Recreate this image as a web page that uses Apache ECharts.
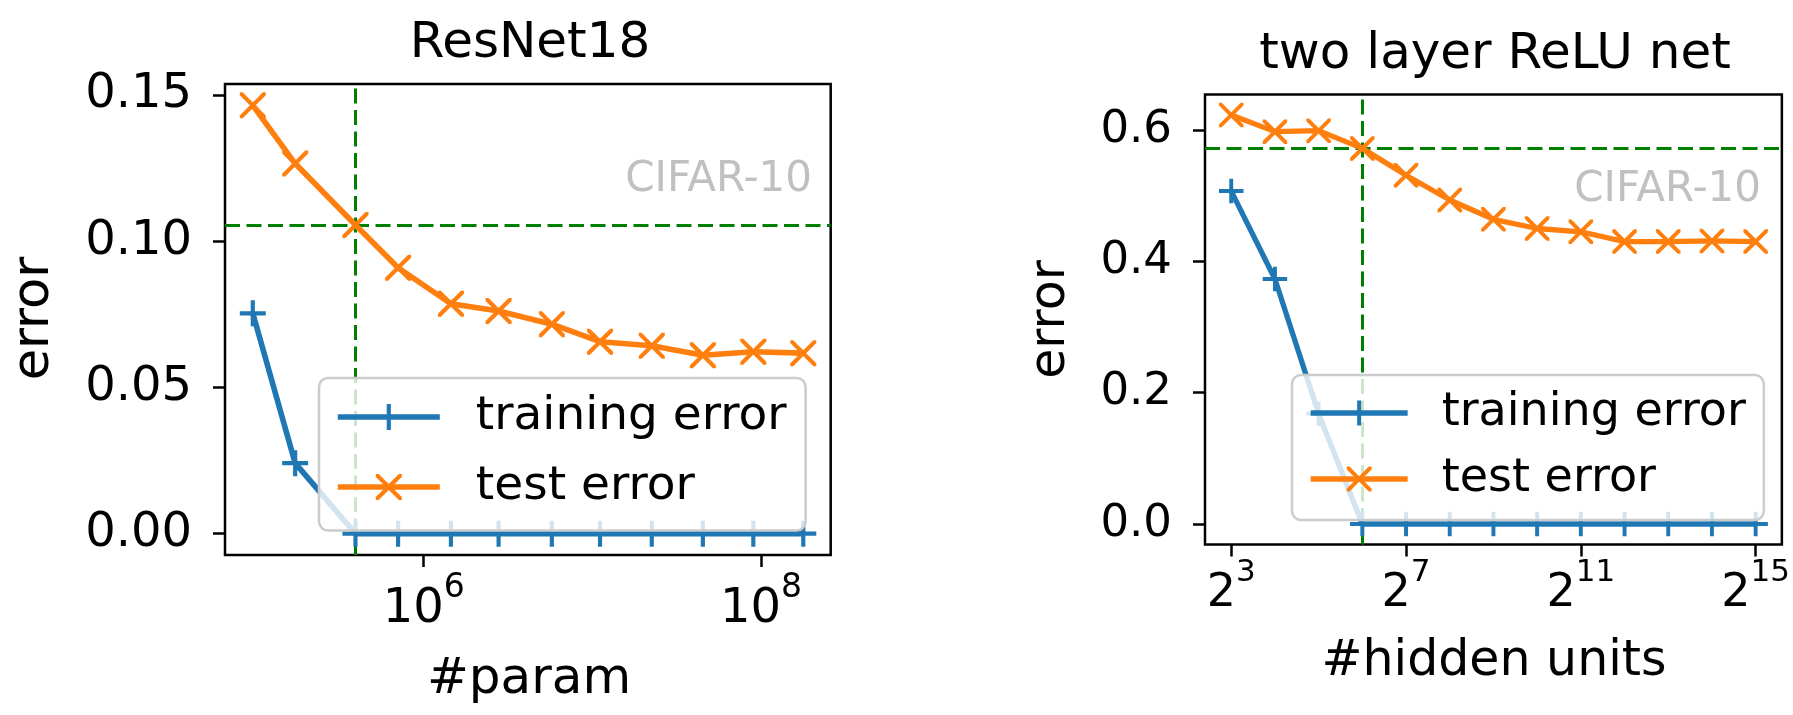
<!DOCTYPE html>
<html>
<head>
<meta charset="utf-8">
<script src="https://cdn.jsdelivr.net/npm/echarts@6/dist/echarts.min.js"></script>
<style>
html,body{margin:0;padding:0;background:#ffffff;}
#chart{width:1793px;height:715px;}
</style>
</head>
<body>
<div id="chart"></div>
<script>
// ---------- ResNet18 (CIFAR-10) ----------
const resnetParams = [9.7e4, 1.73e5, 3.94e5, 7.05e5, 1.45e6, 2.78e6, 5.75e6, 1.11e7, 2.25e7, 4.52e7, 9.0e7, 1.78e8];
const resnetTrain  = [0.0753, 0.0241, 0, 0, 0, 0, 0, 0, 0, 0, 0, 0];
const resnetTest   = [0.1464, 0.1265, 0.1055, 0.0909, 0.0786, 0.0761, 0.0716, 0.0656, 0.0642, 0.0610, 0.0622, 0.0617];
const resnetThresholdIndex = 2;
const resnetXTicks = [1e6, 1e8];
const resnetYTicks = [0, 0.05, 0.10, 0.15];

// ---------- two layer ReLU net (CIFAR-10) ----------
const hiddenUnits = [8, 16, 32, 64, 128, 256, 512, 1024, 2048, 4096, 8192, 16384, 32768];
const reluTrain   = [0.507, 0.373, 0.168, 0, 0, 0, 0, 0, 0, 0, 0, 0, 0];
const reluTest    = [0.6228, 0.5975, 0.599, 0.572, 0.531, 0.4934, 0.464, 0.450, 0.445, 0.430, 0.430, 0.431, 0.430];
const reluThresholdIndex = 3;
const reluXTicks = [8, 128, 2048, 32768];
const reluYTicks = [0, 0.2, 0.4, 0.6];

const seriesNames = ['training error', 'test error'];
const titles = ['ResNet18', 'two layer ReLU net'];
const xLabels = ['#param', '#hidden units'];
const yLabel = 'error';
const datasetNote = 'CIFAR-10';

// ---------- styles ----------
const FONT = 'DejaVu Sans';
const BLUE = '#1f77b4', ORANGE = '#ff7f0e', GREEN = '#008000', NOTE = '#c0c0c0';
const PLUS = 'path://M42,0H58V42H100V58H58V100H42V58H0V42H42Z';
const CROSS = 'path://M0,0L11.3,0L50,38.7L88.7,0L100,0L100,11.3L61.3,50L100,88.7L100,100L88.7,100L50,61.3L11.3,100L0,100L0,88.7L38.7,50L0,11.3Z';

const pairs = (xs, ys) => xs.map((x, i) => [x, ys[i]]);

function supRich(base, sup) {
  return {
    b: {fontFamily: FONT, fontSize: base, lineHeight: Math.round(base * 1.3), verticalAlign: 'bottom', color: '#000'},
    s: {fontFamily: FONT, fontSize: sup, lineHeight: Math.round(sup * 1.25) + 20, verticalAlign: 'top', color: '#000'}
  };
}

function xAxisCfg(grid, base, lo, hi, ticks, fs, margin) {
  return {
    gridIndex: grid, type: 'log', logBase: base,
    min: Math.pow(base, lo), max: Math.pow(base, hi),
    axisLine: {show: false, onZero: false},
    splitLine: {show: false},
    minorTick: {show: false},
    axisTick: {show: true, customValues: ticks, length: 12, lineStyle: {color: '#000', width: 2.5}},
    axisLabel: {
      customValues: ticks, margin: margin,
      formatter: v => '{b|' + base + '}{s|' + Math.round(Math.log(v) / Math.log(base)) + '}',
      rich: supRich(fs, Math.round(fs * 0.68))
    }
  };
}

function yAxisCfg(grid, lo, hi, ticks, digits, fs) {
  return {
    gridIndex: grid, type: 'value', min: lo, max: hi,
    axisLine: {show: false, onZero: false},
    splitLine: {show: false},
    axisTick: {show: true, customValues: ticks, length: 12, lineStyle: {color: '#000', width: 2.5}},
    axisLabel: {customValues: ticks, margin: 33, fontFamily: FONT, fontSize: fs, color: '#000',
      formatter: v => v.toFixed(digits)}
  };
}

function lineSeries(name, grid, xs, ys, color, symbol, size, width, z) {
  return {
    name: name, type: 'line', xAxisIndex: grid, yAxisIndex: grid,
    data: pairs(xs, ys), z: z,
    symbol: symbol, symbolSize: size, symbolKeepAspect: true, showSymbol: true,
    itemStyle: {color: color, borderWidth: 0},
    lineStyle: {color: color, width: width},
    clip: false, silent: true
  };
}

function thresholdSeries(grid, xv, yv) {
  return {
    type: 'line', xAxisIndex: grid, yAxisIndex: grid, data: [], z: 1, silent: true,
    markLine: {
      z: 1, silent: true, animation: false, symbol: ['none', 'none'], precision: 6,
      label: {show: false},
      lineStyle: {color: GREEN, width: 3, type: [15, 6.5]},
      emphasis: {disabled: true},
      data: [{xAxis: xv}, {yAxis: yv}]
    }
  };
}

function legendCfg(left, top, pad, iw, ih, gap, fs, lh, tpad, lw) {
  return {
    data: seriesNames, orient: 'vertical', left: left, top: top, padding: pad,
    itemWidth: iw, itemHeight: ih, itemGap: gap, selectedMode: false,
    backgroundColor: 'rgba(255,255,255,0.8)', borderColor: '#cccccc', borderWidth: 2.5, borderRadius: 9,
    lineStyle: {width: lw}, itemStyle: {borderWidth: 0},
    textStyle: {fontFamily: FONT, fontSize: fs, color: '#000', lineHeight: lh, padding: [0, 0, 0, tpad]}
  };
}

function txt(x, y, text, fs, color, align, rot) {
  return {
    type: 'text', x: x, y: y, rotation: rot || 0, silent: true, z: 10,
    style: {text: text, fontFamily: FONT, fontSize: fs, fill: color,
      align: align, verticalAlign: 'middle', textAlign: align, textVerticalAlign: 'middle'}
  };
}

const option = {
  animation: false,
  backgroundColor: '#ffffff',
  textStyle: {fontFamily: FONT},
  grid: [
    {left: 225, top: 84, width: 605.7, height: 471, show: true, borderColor: '#000', borderWidth: 2.5, backgroundColor: 'transparent'},
    {left: 1205, top: 94.6, width: 577, height: 449.8, show: true, borderColor: '#000', borderWidth: 2.5, backgroundColor: 'transparent'}
  ],
  xAxis: [
    xAxisCfg(0, 10, 4.822, 8.413, resnetXTicks, 48, 17),
    xAxisCfg(1, 2, 2.4, 15.6, reluXTicks, 46, 13)
  ],
  yAxis: [
    yAxisCfg(0, -0.0073, 0.1537, resnetYTicks, 2, 48),
    yAxisCfg(1, -0.0311, 0.6539, reluYTicks, 1, 45)
  ],
  legend: [
    legendCfg(319, 378, [11, 19, 15.5, 16], 102, 32.5, 14, 47, 56, 31, 5.6),
    legendCfg(1292, 375, [11, 18, 14, 16], 97, 31, 12, 46, 54, 29, 5.3)
  ],
  series: [
    thresholdSeries(0, resnetParams[resnetThresholdIndex], resnetTest[resnetThresholdIndex]),
    lineSeries(seriesNames[0], 0, resnetParams, resnetTrain, BLUE, PLUS, 26, 5.6, 2),
    lineSeries(seriesNames[1], 0, resnetParams, resnetTest, ORANGE, CROSS, 26, 5.6, 3),
    thresholdSeries(1, hiddenUnits[reluThresholdIndex], reluTest[reluThresholdIndex]),
    lineSeries(seriesNames[0], 1, hiddenUnits, reluTrain, BLUE, PLUS, 24.5, 5.3, 2),
    lineSeries(seriesNames[1], 1, hiddenUnits, reluTest, ORANGE, CROSS, 24.5, 5.3, 3)
  ],
  graphic: [
    txt(530, 44, titles[0], 50, '#000', 'center'),
    txt(1495, 55, titles[1], 50, '#000', 'center'),
    txt(529, 680, xLabels[0], 50, '#000', 'center'),
    txt(1494, 662, xLabels[1], 49, '#000', 'center'),
    txt(35, 318.6, yLabel, 51, '#000', 'center', Math.PI / 2),
    txt(1051.5, 319.5, yLabel, 49, '#000', 'center', Math.PI / 2),
    txt(812, 180, datasetNote, 42, NOTE, 'right'),
    txt(1761, 190, datasetNote, 42, NOTE, 'right')
  ]
};

const chart = echarts.init(document.getElementById('chart'), null, {renderer: 'canvas'});
chart.setOption(option);
</script>
</body>
</html>
